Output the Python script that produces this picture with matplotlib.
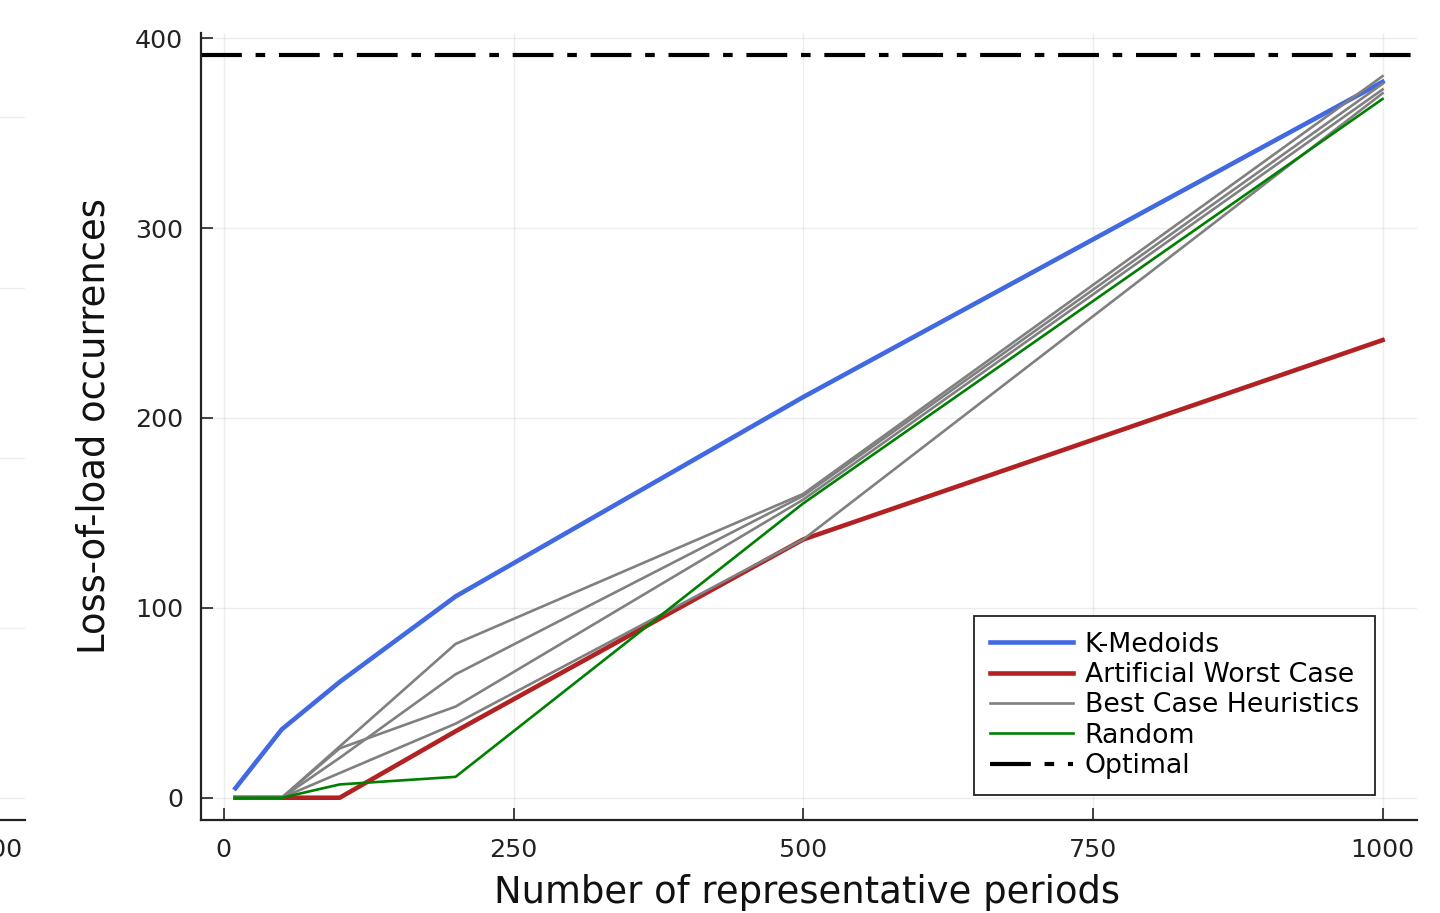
import matplotlib
matplotlib.use("Agg")
import matplotlib.pyplot as plt

# ---------------- data ----------------
periods = [10, 50, 100, 200, 500, 1000]
kmedoids = [5, 36, 61, 106, 211, 377]
worst_case = [0, 0, 0, 35, 136, 241]
heuristic_a = [0, 0, 27, 81, 160, 380]
heuristic_b = [0, 0, 21, 65, 159, 376]
heuristic_c = [0, 0, 26, 48, 157, 373]
heuristic_d = [0, 0, 13, 39, 136, 371]
random_sel = [0, 0, 7, 11, 155, 368]
optimal = 391

x_ticks = [0, 250, 500, 750, 1000]
y_ticks = [0, 100, 200, 300, 400]
left_panel_xtick = [1000]
left_panel_grid = [0.028, 0.244, 0.46, 0.676, 0.893]

# ---------------- figure ----------------
W, H = 1440, 913
fig = plt.figure(figsize=(W / 100, H / 100), dpi=100)

ax_l, ax_r, ax_t, ax_b = 201, 1417, 33, 820
pos = [ax_l / W, (H - ax_b) / H, (ax_r - ax_l) / W, (ax_b - ax_t) / H]

TICK_FS = 18.3
LABEL_FS = 26.6
LEG_FS = 19.3

def style_axes(ax):
    for s in ("top", "right"):
        ax.spines[s].set_visible(False)
    for s in ("left", "bottom"):
        ax.spines[s].set_linewidth(1.6)
        ax.spines[s].set_color("#222222")
    ax.tick_params(direction="in", length=8.5, width=1.2, pad=13,
                   labelsize=TICK_FS, colors="#222222")
    ax.grid(True, color="black", alpha=0.07, linewidth=1.0)
    ax.set_axisbelow(True)

# partial neighbouring panel on the left (cropped off, as in the reference)
ax0 = fig.add_axes([(25 - (ax_r - ax_l)) / W, pos[1], pos[2], pos[3]])
style_axes(ax0)
ax0.set_xlim(-19.7, 1029.7)
ax0.set_ylim(0, 1)
ax0.set_xticks(left_panel_xtick)
ax0.set_yticks(left_panel_grid)
ax0.set_yticklabels([])
ax0.tick_params(axis="y", length=0)
ax0.grid(axis="x", visible=False)

# main panel
ax = fig.add_axes(pos)
style_axes(ax)

ax.plot(periods, kmedoids, color="#4169E1", lw=3.3, label="K-Medoids")
ax.plot(periods, worst_case, color="#B22222", lw=3.3, label="Artificial Worst Case")
for i, h in enumerate([heuristic_a, heuristic_b, heuristic_c, heuristic_d]):
    ax.plot(periods, h, color="#808080", lw=1.9,
            label="Best Case Heuristics" if i == 0 else "_nolegend_")
ax.plot(periods, random_sel, color="#008000", lw=1.9, label="Random")
ax.axhline(optimal, color="black", lw=3.0, dashes=(9.8, 3.3, 2.3, 3.3),
           dash_capstyle="butt", label="Optimal")

ax.set_xlim(-19.7, 1029.7)
ax.set_ylim(-11.73, 402.73)
ax.set_xticks(x_ticks)
ax.set_yticks(y_ticks)

ax.set_xlabel("Number of representative periods", fontsize=LABEL_FS, color="#111111")
ax.set_ylabel("Loss-of-load occurrences", fontsize=LABEL_FS, color="#111111")
ax.xaxis.set_label_coords((807.5 - ax_l) / (ax_r - ax_l), (ax_b - 874) / (ax_b - ax_t))
ax.yaxis.set_label_coords((113 - ax_l) / (ax_r - ax_l), 0.5)

leg = ax.legend(loc="lower right",
                bbox_to_anchor=((1375 - ax_l) / (ax_r - ax_l), (ax_b - 795) / (ax_b - ax_t)),
                fontsize=LEG_FS, frameon=True, fancybox=False, framealpha=1,
                edgecolor="#222222", borderaxespad=0, borderpad=0.6,
                labelspacing=0.16, handlelength=3.1, handletextpad=0.45)
leg.get_frame().set_linewidth(1.3)

fig.savefig("out.png", dpi=100)
